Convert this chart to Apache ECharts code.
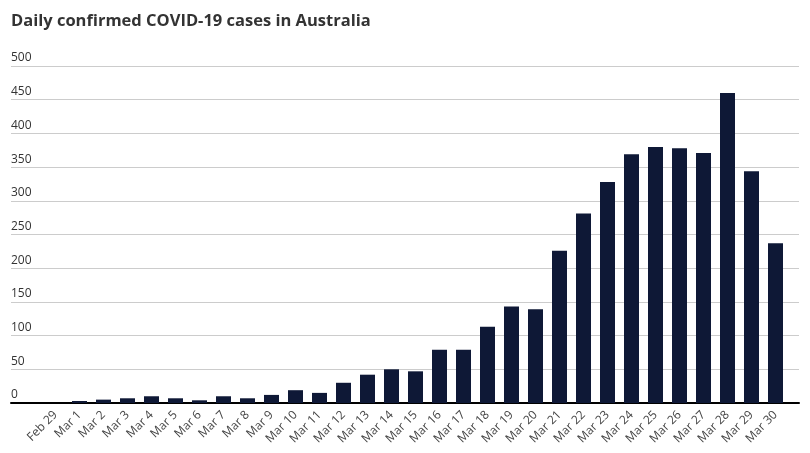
<!DOCTYPE html>
<html>
<head>
<meta charset="utf-8">
<script src="https://cdn.jsdelivr.net/npm/echarts@6/dist/echarts.min.js"></script>
<style>html,body{margin:0;padding:0;background:#fff}#c{width:810px;height:453px}</style>
</head>
<body>
<div id="c"></div>
<script>
const titleText = "Daily confirmed COVID-19 cases in Australia";
const categories = ["Feb 29","Mar 1","Mar 2","Mar 3","Mar 4","Mar 5","Mar 6","Mar 7","Mar 8","Mar 9","Mar 10","Mar 11","Mar 12","Mar 13","Mar 14","Mar 15","Mar 16","Mar 17","Mar 18","Mar 19","Mar 20","Mar 21","Mar 22","Mar 23","Mar 24","Mar 25","Mar 26","Mar 27","Mar 28","Mar 29","Mar 30"];
const cases = [0,3,5,7,10,7,4,10,7,12,19,15,30,42,50,47,79,79,113,143,139,226,281,328,369,380,378,371,460,344,237];
const yMin = 0, yMax = 500, yStep = 50;

const FONT = "'Open Sans', sans-serif";
const chart = echarts.init(document.getElementById('c'), null, {renderer:'canvas'});
chart.setOption({
  animation: false,
  title: {
    text: titleText, left: 6, top: 8,
    textStyle: {fontFamily: FONT, fontSize: 16.5, fontWeight: 'bold', color: '#333'}
  },
  grid: [
    {left: 11, right: 11, top: 66, bottom: 50},
    {left: 43.5, right: 22.5, top: 66, bottom: 50}
  ],
  xAxis: [
    {gridIndex: 0, type: 'category', data: categories, axisLine: {show: true, lineStyle: {color: '#000', width: 2}},
     axisTick: {show: false}, axisLabel: {show: false}, splitLine: {show: false}},
    {gridIndex: 1, type: 'category', data: categories, axisLine: {show: false}, axisTick: {show: false},
     axisLabel: {rotate: 45, margin: 10, interval: 0, fontFamily: FONT, fontSize: 12, color: '#444'}}
  ],
  yAxis: [
    {gridIndex: 0, type: 'value', min: yMin, max: yMax, interval: yStep,
     axisLine: {show: false}, axisTick: {show: false},
     splitLine: {lineStyle: {color: '#ccc', width: 1}},
     axisLabel: {inside: true, margin: 0, align: 'left', verticalAlign: 'bottom', padding: [0,0,2,0],
                 fontFamily: FONT, fontSize: 12, color: '#333'}},
    {gridIndex: 1, type: 'value', min: yMin, max: yMax, interval: yStep, show: false}
  ],
  series: [
    {type: 'bar', xAxisIndex: 1, yAxisIndex: 1, data: cases, barWidth: 15, z: 3,
     itemStyle: {color: '#0e1836'}}
  ]
});
</script>
</body>
</html>
